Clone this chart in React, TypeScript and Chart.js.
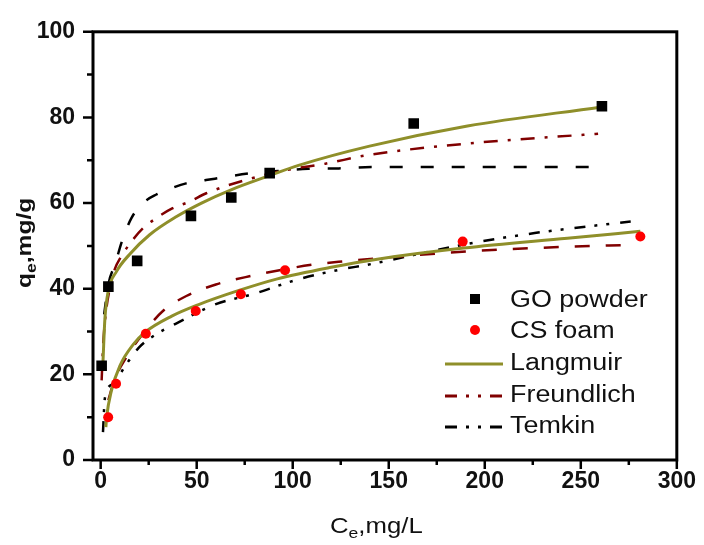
import React, { useEffect, useRef } from 'react';
import { Chart, registerables } from 'chart.js';
Chart.register(...registerables);

// ---- axis ticks ----
const xTicks = [0, 50, 100, 150, 200, 250, 300];
const xMinorTicks = [25, 75, 125, 175, 225, 275];
const yTicks = [0, 20, 40, 60, 80, 100];
const yMinorTicks = [10, 30, 50, 70, 90];

// ---- measured data ----
const goC = [0.5, 4, 19, 47, 68, 88, 163, 261];
const goQ = [22, 40.5, 46.5, 57, 61.3, 67, 78.6, 82.6];
const csC = [3.9, 8, 23.5, 49.5, 73, 96, 188.5, 281];
const csQ = [10, 17.8, 29.5, 34.8, 38.7, 44.3, 51, 52.2];

// ---- fitted curves ----
const goLangC = [1.2, 2.2, 3.9, 8.2, 15, 25.5, 39.3, 52.5, 68.5, 86, 103, 140, 191, 260];
const goLangQ = [23, 33, 39.4, 44, 48, 52.6, 56.8, 60, 63.2, 66.1, 68.8, 73.3, 78, 82.4];
const goFreC = [0.5, 1.3, 2.6, 4.8, 7.3, 10.8, 16, 22, 29, 37.5, 46, 55, 75.5, 96.5, 117, 139, 191, 259];
const goFreQ = [18.6, 27, 34, 40.2, 44.5, 47.6, 51, 54.1, 56.5, 58.8, 60.3, 62.3, 65.4, 67.7, 69.2, 71.2, 73.9, 76.2];
const goTemC = [1.8, 4, 7.7, 11, 16, 22, 29, 37, 44.5, 59.5, 77, 87, 108, 124, 141, 190, 255];
const goTemQ = [34, 41, 46, 51, 56.5, 60, 62, 63.5, 64.6, 65.7, 66.9, 67.3, 68, 68.1, 68.4, 68.4, 68.4];

const csLangC = [2.7, 3.1, 5.6, 10, 17, 23, 37, 51, 72, 92, 120, 144, 189, 243, 281];
const csLangQ = [7.7, 10, 16.2, 22, 27, 29.8, 33.6, 36.3, 39.6, 42.3, 45, 46.9, 49.5, 51.8, 53.4];
const csFreC = [4, 7, 13.4, 22, 32.4, 44.6, 60, 77.4, 110, 127, 191, 226, 279];
const csFreQ = [14, 18.5, 24, 29.5, 34.8, 38.3, 41, 42.9, 45.6, 46.4, 48.7, 49.5, 50.3];
const csTemC = [1.2, 2.2, 6.5, 13.4, 20, 29, 39, 60, 79, 103, 125, 139, 189, 226, 276];
const csTemQ = [6.5, 14.5, 17.8, 22.4, 26.3, 29.4, 31.8, 36.4, 38.7, 42.2, 44.5, 45.6, 50.3, 53, 55.7];

const legendLabels = ['GO powder', 'CS foam', 'Langmuir', 'Freundlich', 'Temkin'];

const OLIVE = '#8f8f2a';
const DARKRED = '#800000';
const FONT = '"Liberation Sans", Arial, sans-serif';

const pts = (xs: number[], ys: number[]) => xs.map((v, i) => ({ x: v, y: ys[i] }));

function drawStretched(ctx: CanvasRenderingContext2D, text: string, x: number, y: number, sx: number) {
  ctx.save();
  ctx.translate(x, y);
  ctx.scale(sx, 1);
  ctx.fillText(text, 0, 0);
  ctx.restore();
  return ctx.measureText(text).width * sx;
}

const framePlugin = {
  id: 'frameTicks',
  afterDatasetsDraw(chart: any) {
    const { ctx, chartArea: a, scales } = chart;
    const xs = scales.x, ys = scales.y;
    ctx.save();
    ctx.setLineDash([]);
    ctx.strokeStyle = '#000';
    ctx.lineWidth = 3;
    ctx.strokeRect(a.left, a.top, a.right - a.left, a.bottom - a.top);
    ctx.lineWidth = 2.5;
    ctx.beginPath();
    xTicks.forEach((v) => { const p = xs.getPixelForValue(v); ctx.moveTo(p, a.bottom); ctx.lineTo(p, a.bottom + 9); });
    xMinorTicks.forEach((v) => { const p = xs.getPixelForValue(v); ctx.moveTo(p, a.bottom); ctx.lineTo(p, a.bottom + 5); });
    yTicks.forEach((v) => { const p = ys.getPixelForValue(v); ctx.moveTo(a.left, p); ctx.lineTo(a.left - 10, p); });
    yMinorTicks.forEach((v) => { const p = ys.getPixelForValue(v); ctx.moveTo(a.left, p); ctx.lineTo(a.left - 6, p); });
    ctx.stroke();
    ctx.restore();
  },
  afterDraw(chart: any) {
    const { ctx } = chart;
    const sx = 1.17;
    ctx.save();
    ctx.fillStyle = '#111';
    ctx.textBaseline = 'alphabetic';
    ctx.textAlign = 'left';
    // x title
    let x = 330;
    ctx.font = `22px ${FONT}`;
    x += drawStretched(ctx, 'C', x, 533, sx);
    ctx.font = `15px ${FONT}`;
    x += drawStretched(ctx, 'e', x, 538, sx);
    ctx.font = `22px ${FONT}`;
    drawStretched(ctx, ',mg/L', x, 533, sx);
    // y title
    ctx.save();
    ctx.translate(31, 288);
    ctx.rotate(-Math.PI / 2);
    let t = 0;
    ctx.font = `bold 21px ${FONT}`;
    t += drawStretched(ctx, 'q', t, 0, sx);
    ctx.font = `bold 15px ${FONT}`;
    t += drawStretched(ctx, 'e', t, 5, sx);
    ctx.font = `bold 21px ${FONT}`;
    drawStretched(ctx, ',mg/g', t, 0, sx);
    ctx.restore();

    // legend
    const rows = [307, 338, 370, 402, 433];
    ctx.font = `23px ${FONT}`;
    legendLabels.forEach((lab, i) => drawStretched(ctx, lab, 510, rows[i], sx));
    ctx.fillStyle = '#000';
    ctx.fillRect(470, 294, 10, 10);
    ctx.fillStyle = '#ff0000';
    ctx.beginPath();
    ctx.arc(475, 330, 5, 0, Math.PI * 2);
    ctx.fill();
    const sample = (y: number, color: string, dash: number[]) => {
      ctx.strokeStyle = color;
      ctx.lineWidth = 3;
      ctx.setLineDash(dash);
      ctx.beginPath();
      ctx.moveTo(445, y);
      ctx.lineTo(503, y);
      ctx.stroke();
    };
    sample(364, OLIVE, []);
    sample(396, DARKRED, [12, 9, 3, 9, 3, 9]);
    sample(427, '#000', [12, 9, 3, 9, 3, 9]);
    ctx.restore();
  },
};

export default function App() {
  const ref = useRef<HTMLCanvasElement>(null);
  useEffect(() => {
    if (!ref.current) return;
    const line = (data: any, color: string, dash: number[], width = 2.5) => ({
      data,
      showLine: true,
      pointRadius: 0,
      borderColor: color,
      backgroundColor: color,
      borderWidth: width,
      borderDash: dash,
      cubicInterpolationMode: 'monotone',
      fill: false,
    });
    const chart = new Chart(ref.current, {
      type: 'scatter',
      data: {
        datasets: [
          { label: 'GO powder', data: pts(goC, goQ), pointStyle: 'rect', pointRadius: 7.5, backgroundColor: '#000', borderColor: '#000', borderWidth: 0 },
          { label: 'CS foam', data: pts(csC, csQ), pointStyle: 'circle', pointRadius: 5, backgroundColor: '#ff0000', borderColor: '#ff0000', borderWidth: 0 },
          { label: 'Langmuir GO', ...line(pts(goLangC, goLangQ), OLIVE, [], 3) },
          { label: 'Langmuir CS', ...line(pts(csLangC, csLangQ), OLIVE, [], 3) },
          { label: 'Freundlich GO', ...line(pts(goFreC, goFreQ), DARKRED, [14, 10, 3, 10]) },
          { label: 'Freundlich CS', ...line(pts(csFreC, csFreQ), DARKRED, [15, 16]) },
          { label: 'Temkin GO', ...line(pts(goTemC, goTemQ), '#000', [13, 18]) },
          { label: 'Temkin CS', ...line(pts(csTemC, csTemQ), '#000', [11, 9, 3, 9, 3, 11]) },
        ] as any,
      },
      options: {
        animation: false,
        responsive: false,
        devicePixelRatio: 1,
        layout: { padding: { left: 0, top: 29, right: 23, bottom: 0 } },
        plugins: { legend: { display: false }, tooltip: { enabled: false } },
        scales: {
          x: {
            type: 'linear',
            min: -4,
            max: 300,
            afterBuildTicks: (s: any) => { s.ticks = xTicks.map((v) => ({ value: v })); },
            afterFit: (s: any) => { s.height = 85; },
            grid: { display: false, drawTicks: false },
            border: { display: false },
            ticks: { padding: 8, color: '#111', font: { family: FONT, size: 23, weight: 'bold' } },
          },
          y: {
            type: 'linear',
            min: 0,
            max: 100,
            afterBuildTicks: (s: any) => { s.ticks = yTicks.map((v) => ({ value: v })); },
            afterFit: (s: any) => { s.width = 93; },
            grid: { display: false, drawTicks: false },
            border: { display: false },
            ticks: { padding: 18, color: '#111', font: { family: FONT, size: 23, weight: 'bold' } },
          },
        },
      },
      plugins: [framePlugin],
    } as any);
    return () => chart.destroy();
  }, []);
  return (
    <div style={{ position: 'absolute', left: 0, top: 0, width: 704, height: 545, background: '#fff' }}>
      <canvas ref={ref} width={704} height={545} />
    </div>
  );
}
